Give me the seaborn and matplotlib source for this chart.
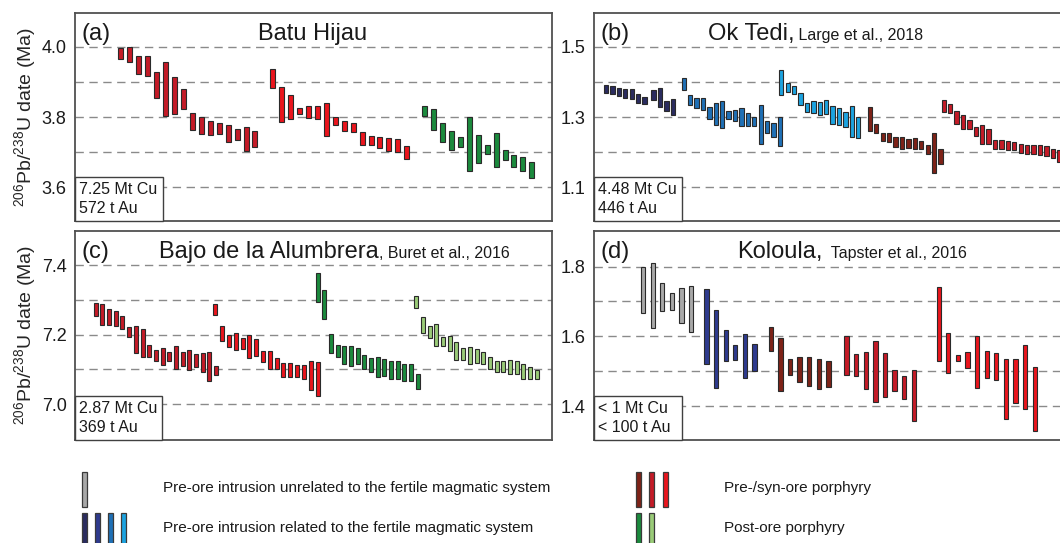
import numpy as np
import pandas as pd
import matplotlib
matplotlib.use("Agg")
import matplotlib.pyplot as plt
import seaborn as sns
from matplotlib.patches import Rectangle

sns.set_theme(style="white")
plt.rcParams['font.family'] = ['Liberation Sans', 'DejaVu Sans']
plt.rcParams['mathtext.fontset'] = 'custom'
plt.rcParams['mathtext.rm'] = 'Liberation Sans'
plt.rcParams['mathtext.it'] = 'Liberation Sans'
plt.rcParams['mathtext.default'] = 'rm'

# ---------------- colours ----------------
COL = {
    "gray": "#a8a8a8",
    "navy": "#2a2c5f",
    "darkblue": "#2e3a8e",
    "medblue": "#1f70b6",
    "lightblue": "#1ca3e0",
    "brown": "#7e2217",
    "crimson": "#c41b27",
    "red": "#ea151d",
    "dkgreen": "#1b8a3d",
    "ltgreen": "#9acb78",
}

# ---------------- data: (a) Batu Hijau ----------------
a_crimson_top = [3.996, 4.000, 3.974, 3.974, 3.929, 3.957, 3.914, 3.880, 3.811, 3.800, 3.789, 3.782, 3.776, 3.767, 3.771, 3.760]
a_crimson_bot = [3.965, 3.958, 3.922, 3.916, 3.854, 3.804, 3.808, 3.822, 3.764, 3.752, 3.748, 3.751, 3.728, 3.733, 3.702, 3.714]
a_red_top = [3.936, 3.885, 3.864, 3.826, 3.832, 3.831, 3.840, 3.801, 3.789, 3.782, 3.757, 3.746, 3.743, 3.740, 3.736, 3.717]
a_red_bot = [3.884, 3.785, 3.793, 3.808, 3.798, 3.793, 3.746, 3.778, 3.760, 3.757, 3.719, 3.719, 3.712, 3.703, 3.699, 3.679]
a_green_top = [3.830, 3.823, 3.782, 3.760, 3.743, 3.799, 3.748, 3.721, 3.753, 3.706, 3.691, 3.685, 3.671]
a_green_bot = [3.804, 3.764, 3.728, 3.705, 3.713, 3.645, 3.670, 3.693, 3.656, 3.678, 3.656, 3.645, 3.625]

# ---------------- data: (b) Ok Tedi ----------------
b_navy_pos = [0, 1, 2, 3, 4, 5, 6, 7.4, 8.4, 9.4, 10.4]
b_navy_top = [1.391, 1.389, 1.384, 1.381, 1.379, 1.365, 1.358, 1.377, 1.382, 1.346, 1.352]
b_navy_bot = [1.369, 1.366, 1.360, 1.355, 1.352, 1.339, 1.336, 1.349, 1.328, 1.317, 1.305]
b_med_top = [1.411, 1.363, 1.355, 1.354, 1.329, 1.340, 1.345, 1.317, 1.320, 1.325, 1.312, 1.299, 1.333, 1.289, 1.282, 1.300]
b_med_bot = [1.377, 1.335, 1.327, 1.321, 1.293, 1.278, 1.269, 1.293, 1.289, 1.274, 1.274, 1.273, 1.224, 1.255, 1.243, 1.218]
b_light_top = [1.433, 1.398, 1.389, 1.369, 1.340, 1.346, 1.342, 1.349, 1.331, 1.325, 1.313, 1.330, 1.300]
b_light_bot = [1.362, 1.371, 1.367, 1.333, 1.314, 1.312, 1.305, 1.309, 1.280, 1.278, 1.272, 1.243, 1.239]
b_brown_top = [1.329, 1.279, 1.255, 1.255, 1.242, 1.242, 1.238, 1.241, 1.231, 1.221, 1.253, 1.209]
b_brown_bot = [1.261, 1.254, 1.231, 1.229, 1.215, 1.209, 1.212, 1.208, 1.208, 1.195, 1.141, 1.166]
b_crimson_top = [1.348, 1.338, 1.317, 1.305, 1.291, 1.271, 1.276, 1.266, 1.234, 1.233, 1.231, 1.229, 1.223, 1.221, 1.219, 1.219, 1.217, 1.209, 1.207]
b_crimson_bot = [1.315, 1.311, 1.280, 1.267, 1.267, 1.247, 1.224, 1.224, 1.210, 1.209, 1.206, 1.205, 1.198, 1.195, 1.194, 1.192, 1.189, 1.183, 1.171]

# ---------------- data: (c) Bajo de la Alumbrera ----------------
c_crimson_top = [7.290, 7.287, 7.273, 7.267, 7.253, 7.221, 7.225, 7.216, 7.170, 7.156, 7.161, 7.150, 7.166, 7.150, 7.157, 7.144, 7.148, 7.149, 7.111]
c_crimson_bot = [7.254, 7.228, 7.228, 7.225, 7.217, 7.192, 7.148, 7.136, 7.136, 7.124, 7.113, 7.124, 7.101, 7.109, 7.097, 7.107, 7.093, 7.066, 7.083]
c_red_top = [7.288, 7.226, 7.199, 7.204, 7.190, 7.199, 7.186, 7.153, 7.153, 7.133, 7.118, 7.118, 7.112, 7.114, 7.123, 7.121]
c_red_bot = [7.256, 7.183, 7.164, 7.157, 7.159, 7.134, 7.138, 7.122, 7.101, 7.101, 7.078, 7.078, 7.078, 7.071, 7.040, 7.024]
c_dkgreen_top = [7.377, 7.328, 7.203, 7.169, 7.166, 7.166, 7.161, 7.142, 7.133, 7.137, 7.129, 7.125, 7.123, 7.115, 7.115, 7.087]
c_dkgreen_bot = [7.293, 7.245, 7.146, 7.135, 7.115, 7.111, 7.116, 7.102, 7.093, 7.079, 7.082, 7.072, 7.072, 7.067, 7.067, 7.045]
c_ltgreen_top = [7.311, 7.250, 7.225, 7.230, 7.193, 7.195, 7.180, 7.162, 7.163, 7.158, 7.150, 7.137, 7.125, 7.125, 7.127, 7.125, 7.115, 7.106, 7.099]
c_ltgreen_bot = [7.278, 7.204, 7.190, 7.166, 7.166, 7.152, 7.128, 7.128, 7.116, 7.118, 7.116, 7.101, 7.093, 7.093, 7.088, 7.087, 7.072, 7.072, 7.072]

# ---------------- data: (d) Koloula ----------------
d_gray_top = [1.800, 1.810, 1.754, 1.725, 1.739, 1.744]
d_gray_bot = [1.667, 1.623, 1.674, 1.677, 1.637, 1.613]
d_blue_top = [1.736, 1.676, 1.619, 1.576, 1.607, 1.579]
d_blue_bot = [1.522, 1.452, 1.530, 1.532, 1.480, 1.502]
d_brown_top = [1.627, 1.595, 1.535, 1.542, 1.540, 1.535, 1.529]
d_brown_bot = [1.559, 1.443, 1.490, 1.469, 1.459, 1.449, 1.455]
d_crimson_top = [1.600, 1.549, 1.556, 1.587, 1.553, 1.505, 1.487, 1.505]
d_crimson_bot = [1.490, 1.487, 1.448, 1.412, 1.427, 1.443, 1.420, 1.358]
d_red_top = [1.742, 1.609, 1.546, 1.556, 1.600, 1.559, 1.552, 1.535, 1.535, 1.576, 1.513]
d_red_bot = [1.528, 1.496, 1.529, 1.509, 1.453, 1.482, 1.475, 1.363, 1.410, 1.391, 1.328]

# ---------------- text ----------------
panel_letters = ["(a)", "(b)", "(c)", "(d)"]
panel_names = ["Batu Hijau", "Ok Tedi,", "Bajo de la Alumbrera", "Koloula,"]
panel_refs = ["", " Large et al., 2018", ", Buret et al., 2016", "  Tapster et al., 2016"]
resources = [("7.25 Mt Cu", "572 t Au"), ("4.48 Mt Cu", "446 t Au"),
             ("2.87 Mt Cu", "369 t Au"), ("< 1 Mt Cu", "< 100 t Au")]
yticks = [[3.6, 3.8, 4.0], [1.1, 1.3, 1.5], [7.0, 7.2, 7.4], [1.4, 1.6, 1.8]]
legend_labels = ["Pre-ore intrusion unrelated to the fertile magmatic system",
                 "Pre-ore intrusion related to the fertile magmatic system",
                 "Pre-/syn-ore porphyry", "Post-ore porphyry"]


def group(key, top, bot, start=0.0, step=1.0, pos=None):
    n = len(top)
    if pos is None:
        pos = start + step * np.arange(n)
    return pd.DataFrame({"color": key, "x": pos, "top": top, "bot": bot})


panels = [
    pd.concat([group("crimson", a_crimson_top, a_crimson_bot, 0),
               group("red", a_red_top, a_red_bot, 17),
               group("dkgreen", a_green_top, a_green_bot, 34)]),
    pd.concat([group("navy", b_navy_top, b_navy_bot, pos=b_navy_pos),
               group("medblue", b_med_top, b_med_bot, 12.1),
               group("lightblue", b_light_top, b_light_bot, 27.3),
               group("brown", b_brown_top, b_brown_bot, 41.1),
               group("crimson", b_crimson_top, b_crimson_bot, 52.6)]),
    pd.concat([group("crimson", c_crimson_top, c_crimson_bot, 0),
               group("red", c_red_top, c_red_bot, 17.9, 1.02),
               group("dkgreen", c_dkgreen_top, c_dkgreen_bot, 33.2, 1.0),
               group("ltgreen", c_ltgreen_top, c_ltgreen_bot, 48.0)]),
    pd.concat([group("gray", d_gray_top, d_gray_bot, 0),
               group("darkblue", d_blue_top, d_blue_bot, 6.6),
               group("brown", d_brown_top, d_brown_bot, 13.3),
               group("crimson", d_crimson_top, d_crimson_bot, 21.2),
               group("red", d_red_top, d_red_bot, 30.8)]),
]

# ---------------- layout ----------------
W, H = 1060, 543
fig = plt.figure(figsize=(W / 100, H / 100), dpi=100)
fig.patch.set_facecolor("white")


def rect(l, t, r, b):
    return [l / W, 1 - b / H, (r - l) / W, (b - t) / H]


rects = [rect(75, 13, 552, 221), rect(594, 13, 1075, 221),
         rect(75, 231, 552, 440), rect(594, 231, 1075, 440)]
xlims = [(-5.15, 48.26), (-1.87, 73.05), (-3.11, 68.3), (-5.12, 45.0)]
ylims = [(3.503, 4.097), (1.003, 1.597), (6.897, 7.498), (1.303, 1.902)]
widths = [0.56, 0.67, 0.6, 0.45]
box_w = [88 / 477, 88 / 481, 87 / 477, 88 / 481]
name_x = [0.384, 0.237, 0.176, 0.297]

for i, df in enumerate(panels):
    ax = fig.add_axes(rects[i])
    ax.set_xlim(*xlims[i])
    ax.set_ylim(*ylims[i])
    lo, hi = min(yticks[i]), max(yticks[i])
    for g in np.linspace(lo, hi, int(round((hi - lo) * 10)) + 1):
        ax.axhline(g, color="#8a8a8a", lw=1.0, dashes=(6, 4), zorder=1)
    ax.bar(df["x"], df["top"] - df["bot"], bottom=df["bot"], width=widths[i],
           color=[COL[c] for c in df["color"]], edgecolor="#2a2a2a",
           linewidth=0.8, zorder=3)
    ax.set_xticks([])
    ax.set_yticks(yticks[i])
    ax.set_yticklabels([f"{v:.1f}" for v in yticks[i]], fontsize=13, color="#1a1a1a")
    ax.tick_params(axis="y", length=0, pad=6)
    for s in ax.spines.values():
        s.set_color("#505050")
        s.set_linewidth(1.3)
    # resource box
    ax.add_patch(Rectangle((0, 0), box_w[i], 0.212, transform=ax.transAxes,
                           facecolor="white", edgecolor="#404040", lw=1.0,
                           zorder=5, clip_on=False))
    ax.text(0.009, 0.13, resources[i][0], transform=ax.transAxes, fontsize=11.5,
            va="baseline", ha="left", zorder=6, color="#1a1a1a")
    ax.text(0.009, 0.038, resources[i][1], transform=ax.transAxes, fontsize=11.5,
            va="baseline", ha="left", zorder=6, color="#1a1a1a")
    # titles
    ax.text(0.013, 0.872, panel_letters[i], transform=ax.transAxes, fontsize=17,
            va="baseline", ha="left", color="#1a1a1a")
    t = ax.text(name_x[i], 0.872, panel_names[i], transform=ax.transAxes,
                fontsize=17, va="baseline", ha="left", color="#1a1a1a")
    if panel_refs[i]:
        ax.annotate(panel_refs[i], xy=(1, 0), xycoords=t, xytext=(0, 1.2),
                    textcoords="offset points", fontsize=11.5, va="bottom",
                    ha="left", color="#1a1a1a")

ylabel = r"$^{206}$Pb/$^{238}$U date (Ma)"
fig.text(25 / W, 1 - 117 / H, ylabel, rotation=90, fontsize=14, va="center", ha="center")
fig.text(25 / W, 1 - 335 / H, ylabel, rotation=90, fontsize=14, va="center", ha="center")

# ---------------- legend ----------------
lax = fig.add_axes([0, 0, 1, 1], zorder=-1)
lax.set_xlim(0, W)
lax.set_ylim(H, 0)
lax.axis("off")
sw = [("gray", 82, 472, 507)]
sw += [(c, x, 513, 548) for c, x in zip(["navy", "darkblue", "medblue", "lightblue"], [82, 95, 108, 121])]
sw += [(c, x, 472, 507) for c, x in zip(["brown", "crimson", "red"], [636, 649, 663])]
sw += [(c, x, 513, 548) for c, x in zip(["dkgreen", "ltgreen"], [636, 649])]
for c, x, y0, y1 in sw:
    lax.add_patch(Rectangle((x, y0), 5, y1 - y0, facecolor=COL[c],
                            edgecolor="#3a3a3a", lw=0.9))
for lbl, (x, y) in zip(legend_labels, [(163, 488), (163, 528), (724, 488), (724, 528)]):
    lax.text(x, y, lbl, fontsize=11, va="center", ha="left", color="#1a1a1a")

fig.savefig("out.png", dpi=100, facecolor="white")
